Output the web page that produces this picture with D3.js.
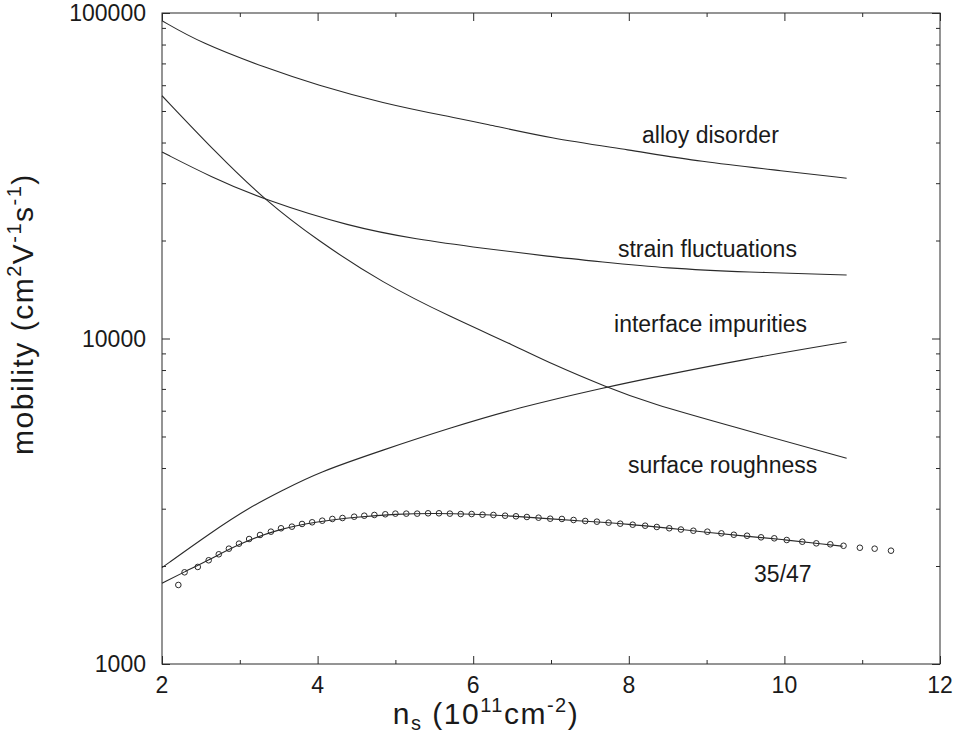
<!DOCTYPE html>
<html>
<head>
<meta charset="utf-8">
<script src="https://cdn.jsdelivr.net/npm/d3@7"></script>
<style>
  body { margin: 0; background: #fff; }
  svg { display: block; }
  text { font-family: "Liberation Sans", Arial, Helvetica, sans-serif; fill: #1a1a1a; }
</style>
</head>
<body>
<svg id="chart" width="956" height="737"></svg>
<script>
// scattering-limited mobilities (ns in 1e11 cm^-2, mobility in cm^2/Vs)
const alloyX   = [2.0, 2.49, 3.35, 3.99, 4.84, 5.69, 6.13, 6.99, 8.0, 8.92, 10.0, 10.8];
const alloyY   = [94700, 81060, 67620, 60100, 52800, 48020, 45830, 41210, 38000, 34930, 32700, 31060];

const strainX  = [2.0, 2.62, 3.32, 4.42, 5.27, 6.13, 6.99, 7.63, 8.49, 9.5, 10.8];
const strainY  = [37410, 31420, 26640, 22050, 20170, 18930, 17840, 17220, 16430, 16000, 15670];

const interfX  = [2.0, 2.62, 3.13, 3.56, 3.99, 4.84, 5.70, 6.56, 7.72, 8.27, 9.5, 10.8];
const interfY  = [1977, 2526, 3035, 3424, 3863, 4545, 5309, 6116, 7096, 7560, 8650, 9757];

const roughX   = [2.0, 2.70, 3.32, 3.99, 4.84, 5.70, 6.56, 6.99, 7.72, 8.27, 9.34, 10.8];
const roughY   = [55690, 37070, 26640, 20070, 14780, 11670, 9437, 8390, 7080, 6322, 5358, 4285];

// total (fit) curve
const totalX   = [2.0, 2.3, 2.6, 3.0, 3.5, 4.0, 4.5, 5.0, 5.5, 6.0, 6.5, 7.0, 7.5, 8.0, 8.5, 9.0, 9.5, 10.0, 10.5, 10.75];
const totalY   = [1770, 1925, 2085, 2345, 2600, 2740, 2830, 2890, 2905, 2890, 2850, 2790, 2740, 2690, 2615, 2540, 2470, 2410, 2335, 2300];

// measured points (sample 35/47)
const measX = [2.21, 2.29, 2.46, 2.60, 2.73, 2.86, 2.99, 3.12, 3.26, 3.40, 3.53, 3.67, 3.80, 3.93, 4.06,
  4.19, 4.32, 4.47, 4.60, 4.73, 4.87, 5.00, 5.14, 5.28, 5.42, 5.56, 5.70, 5.84, 5.98, 6.12, 6.26,
  6.41, 6.55, 6.69, 6.84, 6.99, 7.14, 7.29, 7.44, 7.59, 7.74, 7.89, 8.05, 8.21, 8.36, 8.52, 8.67,
  8.83, 9.01, 9.19, 9.35, 9.52, 9.70, 9.87, 10.03, 10.23, 10.41, 10.59, 10.76, 10.97, 11.16, 11.37];
const measY = [1749, 1913, 1987, 2083, 2173, 2261, 2343, 2421, 2491, 2550, 2612, 2642, 2693, 2725, 2756,
  2790, 2809, 2835, 2855, 2870, 2884, 2897, 2897, 2897, 2904, 2904, 2897, 2889, 2889, 2875, 2870,
  2855, 2843, 2829, 2815, 2795, 2790, 2770, 2750, 2737, 2718, 2698, 2679, 2660, 2636, 2612, 2589,
  2567, 2550, 2520, 2495, 2478, 2450, 2433, 2404, 2375, 2348, 2332, 2308, 2276, 2261, 2229];

const curveNames = ["alloy disorder", "strain fluctuations", "interface impurities", "surface roughness", "35/47"];
const labelX = [8.17, 7.86, 7.81, 7.99, 9.61];
const labelY = [39870, 17800, 10470, 3863, 1786];

const xMajor = [2, 4, 6, 8, 10, 12];
const xMinor = [3, 5, 7, 9, 11];
const yMajor = [1000, 10000, 100000];
const yMinor = [2, 3, 4, 5, 6, 7, 8, 9].flatMap(m => [m * 1000, m * 10000]);

const svg = d3.select("#chart");
const pLeft = 162, pRight = 940, pTop = 13, pBottom = 664;

const x = d3.scaleLinear().domain([2, 12]).range([pLeft, pRight]);
const y = d3.scaleLog().domain([1000, 100000]).range([pBottom, pTop]);

const ink = "#2a2a2a";

// frame
svg.append("rect")
  .attr("x", pLeft).attr("y", pTop)
  .attr("width", pRight - pLeft).attr("height", pBottom - pTop)
  .attr("fill", "none").attr("stroke", ink).attr("stroke-width", 1);

// ticks pointing inward on all four sides
function tickAxis(axis, transform) {
  const g = svg.append("g").attr("transform", transform).call(axis);
  g.select(".domain").remove();
  g.selectAll("line").attr("stroke", ink);
  return g;
}

tickAxis(d3.axisBottom(x).tickValues(xMajor).tickSize(-8).tickFormat(""), `translate(0,${pBottom})`);
tickAxis(d3.axisBottom(x).tickValues(xMinor).tickSize(-4).tickFormat(""), `translate(0,${pBottom})`);
tickAxis(d3.axisTop(x).tickValues(xMajor).tickSize(-8).tickFormat(""), `translate(0,${pTop})`);
tickAxis(d3.axisTop(x).tickValues(xMinor).tickSize(-4).tickFormat(""), `translate(0,${pTop})`);
tickAxis(d3.axisLeft(y).tickValues(yMajor).tickSize(-8).tickFormat(""), `translate(${pLeft},0)`);
tickAxis(d3.axisLeft(y).tickValues(yMinor).tickSize(-4).tickFormat(""), `translate(${pLeft},0)`);
tickAxis(d3.axisRight(y).tickValues(yMajor).tickSize(-8).tickFormat(""), `translate(${pRight},0)`);
tickAxis(d3.axisRight(y).tickValues(yMinor).tickSize(-4).tickFormat(""), `translate(${pRight},0)`);

// tick labels
svg.append("g").selectAll("text").data(xMajor).join("text")
  .attr("x", d => x(d)).attr("y", 693)
  .attr("text-anchor", "middle").attr("font-size", 23)
  .text(d => d);

svg.append("g").selectAll("text").data(yMajor).join("text")
  .attr("x", 146).attr("y", d => y(d) + 8)
  .attr("text-anchor", "end").attr("font-size", 23)
  .text(d => d);

// axis titles
const xt = svg.append("text").attr("x", 486).attr("y", 724)
  .attr("text-anchor", "middle").attr("font-size", 30).attr("letter-spacing", 1.5);
xt.append("tspan").text("n");
xt.append("tspan").attr("font-size", 20).attr("dy", 6).text("s");
xt.append("tspan").attr("dy", -6).text(" (10");
xt.append("tspan").attr("font-size", 20).attr("dy", -12).text("11");
xt.append("tspan").attr("dy", 12).text("cm");
xt.append("tspan").attr("font-size", 20).attr("dy", -12).text("-2");
xt.append("tspan").attr("dy", 12).text(")");

const yt = svg.append("text")
  .attr("transform", "translate(33,314) rotate(-90)")
  .attr("text-anchor", "middle").attr("font-size", 30).attr("letter-spacing", 1.5);
yt.append("tspan").text("mobility (cm");
yt.append("tspan").attr("font-size", 20).attr("dy", -12).text("2");
yt.append("tspan").attr("dy", 12).text("V");
yt.append("tspan").attr("font-size", 20).attr("dy", -12).text("-1");
yt.append("tspan").attr("dy", 12).text("s");
yt.append("tspan").attr("font-size", 20).attr("dy", -12).text("-1");
yt.append("tspan").attr("dy", 12).text(")");

// curves
const line = d3.line().x(d => x(d[0])).y(d => y(d[1])).curve(d3.curveBasis);
const curves = [
  [alloyX, alloyY],
  [strainX, strainY],
  [interfX, interfY],
  [roughX, roughY],
  [totalX, totalY]
];
svg.append("g").selectAll("path").data(curves).join("path")
  .attr("d", c => line(d3.zip(c[0], c[1])))
  .attr("fill", "none").attr("stroke", ink).attr("stroke-width", 1.1);

// measured points
svg.append("g").selectAll("circle").data(d3.zip(measX, measY)).join("circle")
  .attr("cx", d => x(d[0])).attr("cy", d => y(d[1])).attr("r", 2.8)
  .attr("fill", "none").attr("stroke", ink).attr("stroke-width", 1);

// curve labels
svg.append("g").selectAll("text").data(curveNames).join("text")
  .attr("x", (d, i) => x(labelX[i])).attr("y", (d, i) => y(labelY[i]))
  .attr("font-size", 23)
  .text(d => d);
</script>
</body>
</html>
